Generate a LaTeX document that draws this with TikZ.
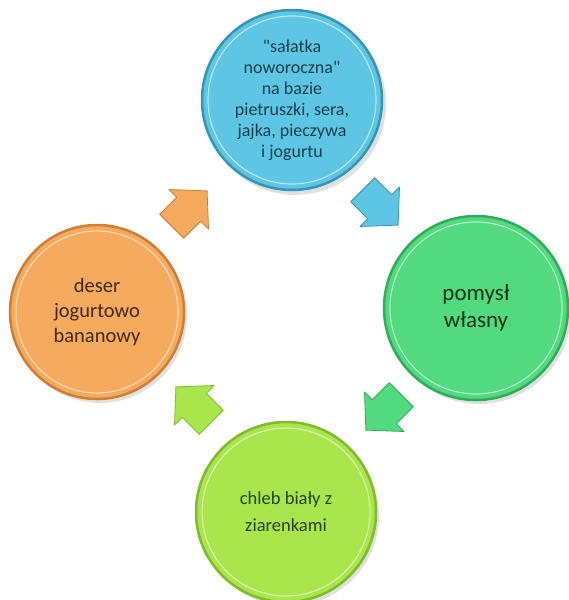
\documentclass[tikz,border=0pt]{standalone}
\usepackage{fontspec}
\setmainfont{Carlito}
\definecolor{cTop}{HTML}{5CC6E4}
\definecolor{cTopE}{HTML}{3496B4}
\definecolor{cTopT}{HTML}{163F4C}
\definecolor{cRight}{HTML}{52DA7E}
\definecolor{cRightE}{HTML}{2DAE58}
\definecolor{cRightT}{HTML}{10331A}
\definecolor{cBot}{HTML}{A9E64C}
\definecolor{cBotE}{HTML}{7EBC28}
\definecolor{cBotT}{HTML}{2C400C}
\definecolor{cLeft}{HTML}{F6AA5E}
\definecolor{cLeftE}{HTML}{CF7E32}
\definecolor{cLeftT}{HTML}{45290C}
\tikzset{
  bubble/.style={circle, minimum size=#1, inner sep=0pt, align=center, line width=2.5pt},
  bshadow/.style={fill=black, opacity=0.12},
  rimlight/.style={draw=white, opacity=0.55, line width=1.2pt},
  barrow/.style={line width=0.8pt, line join=round}
}
\newcommand{\myblockarrow}[5]{%
  \path[barrow, fill=#4, draw=#5, shift={(#1,#2)}, rotate=#3]
    (-23,-17) -- (1,-17) -- (1,-28) -- (27,0) -- (1,28) -- (1,17) -- (-23,17) -- cycle;}
\begin{document}
\begin{tikzpicture}[x=1pt,y=-1pt]
\useasboundingbox (0,0) rectangle (569,600);
% shadows
\fill[bshadow] (295,104) circle (91);
\fill[bshadow] (479,312) circle (92);
\fill[bshadow] (289,516) circle (90);
\fill[bshadow] (100,316) circle (87);
% circles
\node[bubble=180pt, fill=cTop, draw=cTopE, text=cTopT, font=\fontsize{18}{21}\selectfont] (salatka) at (292,100)
  {\textquotedbl sałatka\\noworoczna\textquotedbl\\na bazie\\pietruszki, sera,\\jajka, pieczywa\\i jogurtu};
\node[bubble=184pt, fill=cRight, draw=cRightE, text=cRightT, font=\fontsize{23}{27}\selectfont] (pomysl) at (476,308)
  {pomysł\\własny};
\node[bubble=180pt, fill=cBot, draw=cBotE, text=cBotT, font=\fontsize{18.5}{27}\selectfont] (chleb) at (286,512)
  {chleb biały z\\ziarenkami};
\node[bubble=174pt, fill=cLeft, draw=cLeftE, text=cLeftT, font=\fontsize{20.5}{25}\selectfont] (deser) at (97,312)
  {deser\\jogurtowo\\bananowy};
% rim highlights
\draw[rimlight] (salatka.center) circle (84);
\draw[rimlight] (pomysl.center) circle (86);
\draw[rimlight] (chleb.center) circle (84);
\draw[rimlight] (deser.center) circle (81);
% arrows
\myblockarrow{188}{210}{45}{cLeft}{cLeftE}
\myblockarrow{379}{206}{-45}{cTop}{cTopE}
\myblockarrow{385}{411}{-135}{cRight}{cRightE}
\myblockarrow{195}{406}{135}{cBot}{cBotE}
\end{tikzpicture}
\end{document}
